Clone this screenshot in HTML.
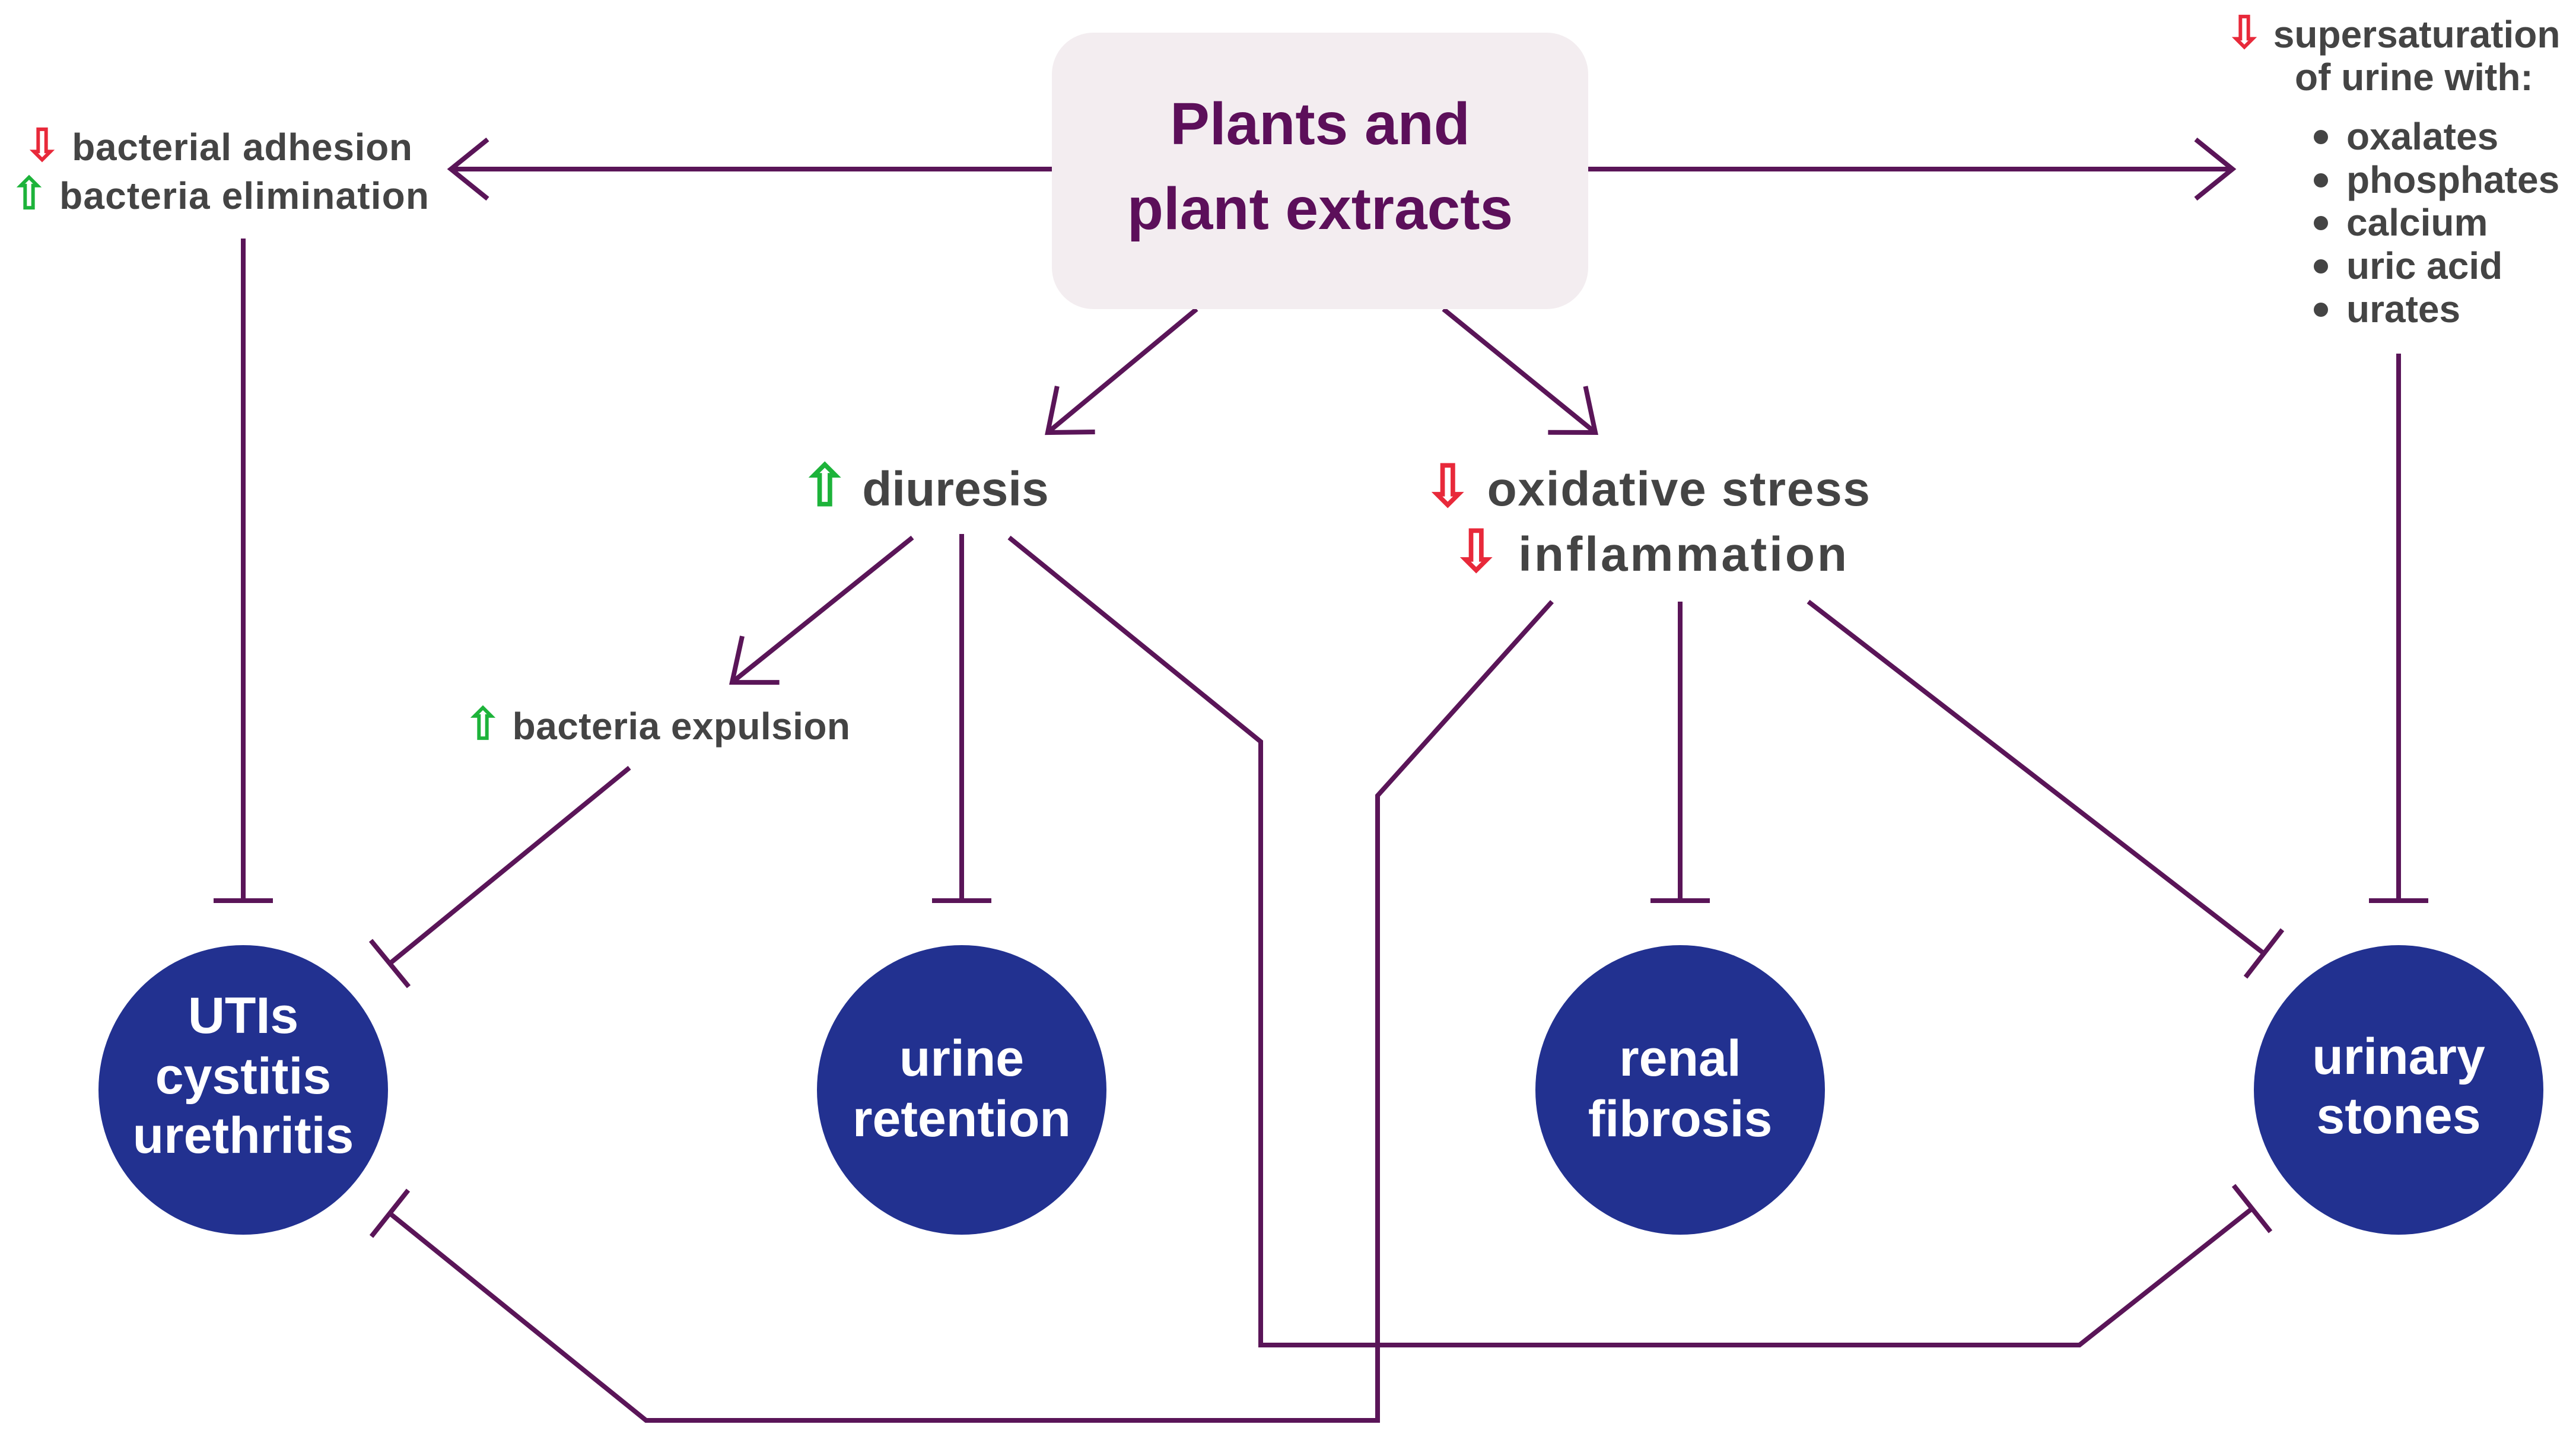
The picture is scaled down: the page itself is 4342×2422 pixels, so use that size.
<!DOCTYPE html>
<html><head><meta charset="utf-8"><style>
html,body{margin:0;padding:0;background:#fff;}
svg{display:block;}
text{font-family:"Liberation Sans",sans-serif;font-weight:bold;}
</style></head><body>
<svg width="4342" height="2422" viewBox="0 0 4342 2422" xmlns="http://www.w3.org/2000/svg">
<defs>
<marker id="ah" markerUnits="userSpaceOnUse" viewBox="-80 -60 90 120" refX="0" refY="0" markerWidth="90" markerHeight="120" orient="auto">
<path d="M-62,-50 L0,0 L-62,50" fill="none" stroke="#5a1558" stroke-width="8"/>
</marker>
</defs>
<g stroke="#5a1558" stroke-width="8" fill="none">
<line x1="1773" y1="285" x2="760" y2="285" marker-end="url(#ah)"/>
<line x1="2677" y1="285" x2="3763" y2="285" marker-end="url(#ah)"/>
<line x1="2017" y1="521" x2="1766" y2="729" marker-end="url(#ah)"/>
<line x1="2433" y1="521" x2="2689" y2="729" marker-end="url(#ah)"/>
<line x1="1538" y1="906" x2="1234" y2="1150" marker-end="url(#ah)"/>
<line x1="410" y1="402" x2="410" y2="1518"/><line x1="360" y1="1518" x2="460" y2="1518"/>
<line x1="1621" y1="900" x2="1621" y2="1518"/><line x1="1571" y1="1518" x2="1671" y2="1518"/>
<line x1="2832" y1="1014" x2="2832" y2="1518"/><line x1="2782" y1="1518" x2="2882" y2="1518"/>
<line x1="4043" y1="596" x2="4043" y2="1518"/><line x1="3993" y1="1518" x2="4093" y2="1518"/>
<line x1="1061" y1="1294" x2="657" y2="1624"/><line x1="625" y1="1585" x2="689" y2="1663"/>
<line x1="3048" y1="1014" x2="3816" y2="1607"/><line x1="3847" y1="1567" x2="3785" y2="1647"/>
<polyline points="1701,906 2125,1250 2125,2267 3505,2267 3796,2037"/><line x1="3765" y1="1998" x2="3827" y2="2076"/>
<polyline points="2616,1014 2322,1341 2322,2394 1089,2394 657,2045"/><line x1="626" y1="2084" x2="688" y2="2006"/>
</g>
<rect x="1773" y="55" width="904" height="466" rx="70" fill="#f3edf0"/>
<text x="2225" y="243" font-size="100" fill="#5c0f5a" text-anchor="middle">Plants and</text>
<text x="2225" y="386" font-size="100" fill="#5c0f5a" text-anchor="middle">plant extracts</text>
<g fill="#223190">
<circle cx="410" cy="1837" r="244"/><circle cx="1621" cy="1837" r="244"/>
<circle cx="2832" cy="1837" r="244"/><circle cx="4043" cy="1837" r="244"/>
</g>
<g fill="#fff" font-size="86" text-anchor="middle">
<text x="410" y="1741">UTIs</text><text x="410" y="1843">cystitis</text><text x="410" y="1943">urethritis</text>
<text x="1621" y="1813">urine</text><text x="1621" y="1915">retention</text>
<text x="2832" y="1813">renal</text><text x="2832" y="1915">fibrosis</text>
<text x="4043" y="1810">urinary</text><text x="4043" y="1910">stones</text>
</g>
<g fill="#444" font-size="82">
<text x="1350" y="852"><tspan fill="#1db33a" font-size="96">⇧</tspan> diuresis</text>
<text x="2400" y="852" textLength="752"><tspan fill="#e8293a" font-size="96">⇩</tspan> oxidative stress</text>
<text x="2448" y="962" textLength="665"><tspan fill="#e8293a" font-size="96">⇩</tspan> inflammation</text>
</g>
<g fill="#444" font-size="64">
<text x="40" y="270" textLength="655"><tspan fill="#e8293a" font-size="74">⇩</tspan> bacterial adhesion</text>
<text x="18" y="352" textLength="705"><tspan fill="#1db33a" font-size="74">⇧</tspan> bacteria elimination</text>
<text x="783" y="1246" textLength="650"><tspan fill="#1db33a" font-size="74">⇧</tspan> bacteria expulsion</text>
<text x="3752" y="80"><tspan fill="#e8293a" font-size="74">⇩</tspan> supersaturation</text>
<text x="3868" y="152">of urine with:</text>
<text x="3955" y="252">oxalates</text>
<text x="3955" y="325">phosphates</text>
<text x="3955" y="397">calcium</text>
<text x="3955" y="470">uric acid</text>
<text x="3955" y="543">urates</text>
</g>
<g fill="#444">
<circle cx="3912" cy="231" r="12"/><circle cx="3912" cy="304" r="12"/><circle cx="3912" cy="376" r="12"/><circle cx="3912" cy="449" r="12"/><circle cx="3912" cy="522" r="12"/>
</g>
</svg>
</body></html>
